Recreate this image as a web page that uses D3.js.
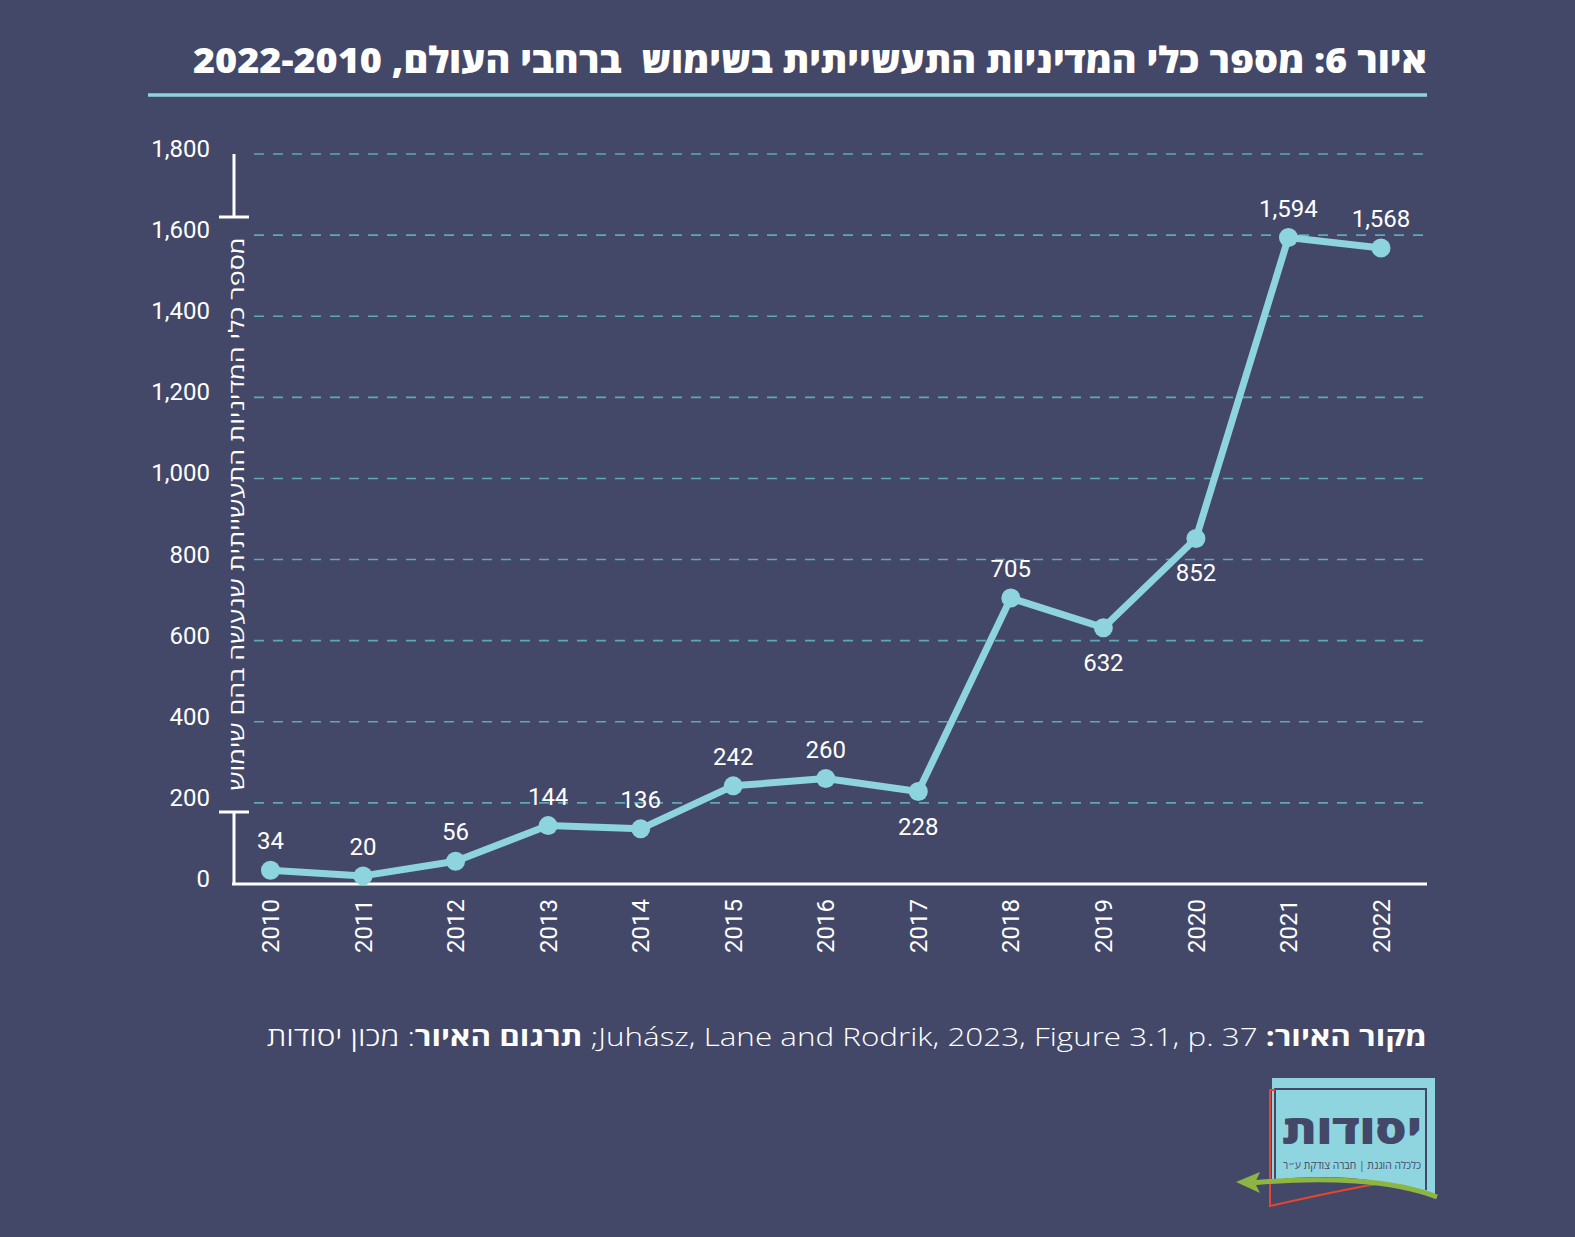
<!DOCTYPE html>
<html><head><meta charset="utf-8">
<script src="https://cdn.jsdelivr.net/npm/d3@7"></script>
<style>
html,body{margin:0;padding:0;background:#434868;}
svg{display:block;}
</style></head>
<body>
<script>
const years = ["2010","2011","2012","2013","2014","2015","2016","2017","2018","2019","2020","2021","2022"];
const values = [34,20,56,144,136,242,260,228,705,632,852,1594,1568];
const labelBelow = ["2017","2019","2020"];
const yTicks = [0,200,400,600,800,1000,1200,1400,1600,1800];
const titleText = "איור 6: מספר כלי המדיניות התעשייתית בשימוש  ברחבי העולם, 2022-2010";
const yAxisTitle = "מספר כלי המדיניות התעשייתית שנעשה בהם שימוש";
const logoMain = "יסודות";
const logoSub = "כלכלה הוגנת | חברה צודקת ע״ר";

const W = 1575, H = 1237;
const BG = "#434868", LINE = "#8ed4de", GRID = "#5ea9b6", WHITE = "#ffffff";
const RIGHT = 1427;
const svg = d3.select("body").append("svg").attr("width", W).attr("height", H);
svg.append("rect").attr("width", W).attr("height", H).attr("fill", BG);

const x = d3.scalePoint().domain(years).range([270.5, 1381]);
const y = d3.scaleLinear().domain([0, 1800]).range([884, 154]);

// Title
svg.append("text").attr("x", RIGHT).attr("y", 73)
  .attr("direction", "rtl").attr("text-anchor", "start")
  .style("white-space", "pre")
  .attr("font-family", "'Open Sans', 'DejaVu Sans', sans-serif")
  .attr("font-weight", 800).attr("font-size", 36).attr("fill", WHITE)
  .attr("textLength", 1234).attr("lengthAdjust", "spacingAndGlyphs")
  .text(titleText);
svg.append("line").attr("x1", 148).attr("x2", RIGHT).attr("y1", 95).attr("y2", 95)
  .attr("stroke", LINE).attr("stroke-width", 3.5);

// Gridlines
svg.append("g").selectAll("line").data(yTicks.filter(d => d > 0)).join("line")
  .attr("x1", 254).attr("x2", RIGHT)
  .attr("y1", d => y(d)).attr("y2", d => y(d))
  .attr("stroke", GRID).attr("stroke-width", 1.6).attr("stroke-dasharray", "10,9");

// Y tick labels
svg.append("g").selectAll("text").data(yTicks).join("text")
  .attr("x", 210).attr("y", d => y(d) + 3)
  .attr("text-anchor", "end")
  .attr("font-family", "Roboto, 'Open Sans', sans-serif").attr("font-size", 24)
  .attr("fill", WHITE).text(d => d3.format(",")(d));

// Y axis line with break
const ax = svg.append("g").attr("stroke", WHITE).attr("stroke-width", 3).attr("fill", "none");
ax.append("line").attr("x1", 234).attr("x2", 234).attr("y1", y(1800)).attr("y2", 217);
ax.append("line").attr("x1", 219).attr("x2", 249).attr("y1", 217).attr("y2", 217);
ax.append("line").attr("x1", 219).attr("x2", 249).attr("y1", 812).attr("y2", 812);
ax.append("line").attr("x1", 234).attr("x2", 234).attr("y1", 812).attr("y2", y(0));
// X axis line
ax.append("line").attr("x1", 232).attr("x2", RIGHT).attr("y1", y(0)).attr("y2", y(0));

// Y axis title
svg.append("text")
  .attr("transform", `translate(244, 514) rotate(-90)`)
  .attr("direction", "rtl").attr("text-anchor", "middle")
  .attr("font-family", "'Open Sans', 'DejaVu Sans', sans-serif").attr("font-size", 21)
  .attr("fill", WHITE)
  .attr("textLength", 553).attr("lengthAdjust", "spacingAndGlyphs")
  .text(yAxisTitle);

// X tick labels
svg.append("g").selectAll("text").data(years).join("text")
  .attr("transform", d => `translate(${x(d)}, 899) rotate(-90)`)
  .attr("text-anchor", "end").attr("dy", "0.36em")
  .attr("font-family", "Roboto, 'Open Sans', sans-serif").attr("font-size", 24)
  .attr("fill", WHITE).text(d => d);

// Line
const pts = years.map((yr, i) => ({yr, v: values[i]}));
svg.append("path").datum(pts)
  .attr("d", d3.line().x(d => x(d.yr)).y(d => y(d.v)))
  .attr("fill", "none").attr("stroke", LINE).attr("stroke-width", 7)
  .attr("stroke-linejoin", "round");
svg.append("g").selectAll("circle").data(pts).join("circle")
  .attr("cx", d => x(d.yr)).attr("cy", d => y(d.v)).attr("r", 9.5).attr("fill", LINE);

// Data labels
svg.append("g").selectAll("text").data(pts).join("text")
  .attr("x", d => x(d.yr))
  .attr("y", d => labelBelow.includes(d.yr) ? y(d.v) + 43 : y(d.v) - 21)
  .attr("text-anchor", "middle")
  .attr("font-family", "Roboto, 'Open Sans', sans-serif").attr("font-size", 24)
  .attr("fill", WHITE).text(d => d3.format(",")(d.v));

// Footer
const foot = svg.append("text").attr("x", RIGHT).attr("y", 1046)
  .attr("direction", "rtl").attr("text-anchor", "start")
  .style("white-space", "pre")
  .attr("font-family", "'Open Sans', 'DejaVu Sans', sans-serif").attr("font-size", 26)
  .attr("font-weight", 350)
  .attr("fill", WHITE)
  .attr("textLength", 1160).attr("lengthAdjust", "spacingAndGlyphs");
foot.append("tspan").attr("font-weight", 700).text("מקור האיור: ");
foot.append("tspan").text("Juhász, Lane and Rodrik, 2023, Figure 3.1, p. 37; ");
foot.append("tspan").attr("font-weight", 700).text("תרגום האיור");
foot.append("tspan").text(": מכון יסודות");

// Logo
const lg = svg.append("g").attr("transform", "translate(4,0)");
lg.append("path")
  .attr("d", "M1268,1078 L1431,1078 L1431,1198 C1380,1176 1320,1174 1268,1180 Z")
  .attr("fill", "#8fd5df");
lg.append("path")
  .attr("d", "M1271,1180 L1271,1089 L1422,1089 L1422,1190")
  .attr("fill", "none").attr("stroke", "#434868").attr("stroke-width", 2);
lg.append("path")
  .attr("d", "M1266,1186 L1266,1090 L1271,1090 M1266,1186 L1266,1206 C1310,1196 1350,1188 1372,1184")
  .attr("fill", "none").attr("stroke", "#e8442f").attr("stroke-width", 2);
lg.append("path")
  .attr("d", "M1248,1183 C1320,1176 1390,1180 1433,1197")
  .attr("fill", "none").attr("stroke", "#8db543").attr("stroke-width", 5);
lg.append("path")
  .attr("d", "M1232,1182 L1256,1172 L1251,1183 L1256,1193 Z")
  .attr("fill", "#8db543");
lg.append("text").attr("x", 1348).attr("y", 1144).attr("text-anchor", "middle")
  .attr("direction", "rtl")
  .attr("font-family", "'Open Sans', 'DejaVu Sans', sans-serif").attr("font-weight", 800)
  .attr("font-size", 41).attr("fill", "#434868")
  .attr("textLength", 140).attr("lengthAdjust", "spacingAndGlyphs")
  .text(logoMain);
lg.append("text").attr("x", 1348).attr("y", 1169).attr("text-anchor", "middle")
  .attr("direction", "rtl")
  .attr("font-family", "'Open Sans', 'DejaVu Sans', sans-serif")
  .attr("font-size", 10.5).attr("fill", "#434868")
  .attr("textLength", 138).attr("lengthAdjust", "spacingAndGlyphs")
  .text(logoSub);
</script>
</body></html>
